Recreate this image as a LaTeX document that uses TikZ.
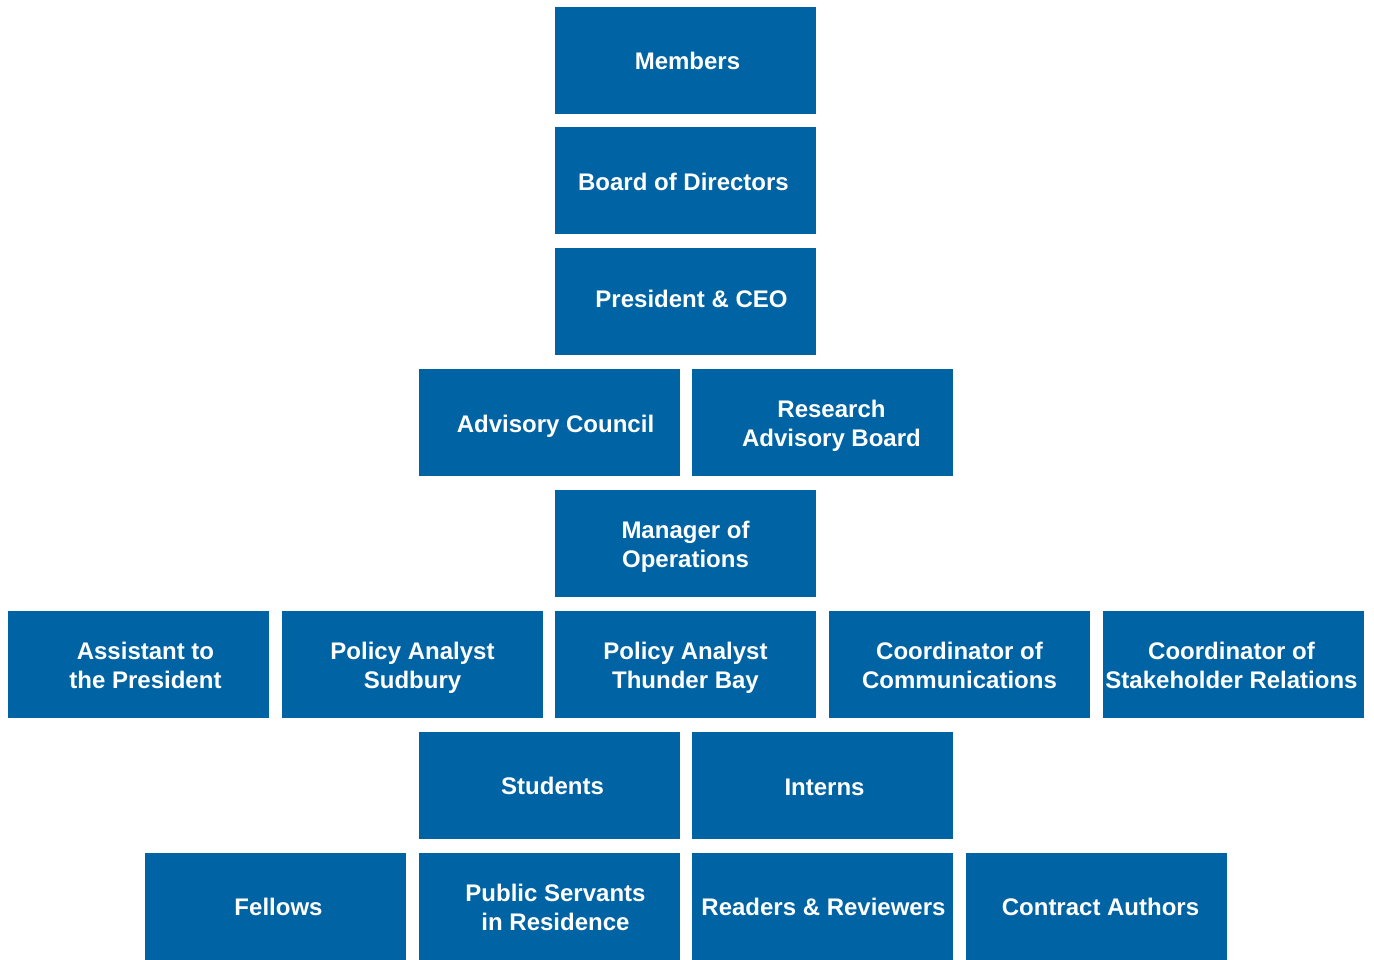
\documentclass[tikz,border=0pt]{standalone}
\usepackage{fontspec}
\setmainfont{Liberation Sans}
\usepackage{tikz}
\usetikzlibrary{positioning}

\definecolor{orgblue}{RGB}{0,99,164}

\begin{document}
\begin{tikzpicture}[line join=bevel,
  orgbox/.style={fill=orgblue,draw=none,inner sep=0pt,
    minimum width=130.5bp,minimum height=53.5bp},
  orgtext/.style={text=white,inner sep=0pt,align=center,
    font=\fontsize{12bp}{14.5bp}\selectfont\bfseries},
  ]
\useasboundingbox (0bp,0bp) rectangle (687bp,480bp);
%%
\node (node_members) at (342.75bp,449.75bp) [orgbox,label={[orgtext,xshift=1bp]center:Members}] {};
  \node (node_board) at (342.75bp,389.75bp) [orgbox,label={[orgtext,xshift=-1bp,yshift=-0.5bp]center:Board of Directors}] {};
  \node (node_president) at (342.75bp,329.25bp) [orgbox,label={[orgtext,xshift=3bp,yshift=1.5bp]center:President \& CEO}] {};
%
\node (node_advisory) at (274.75bp,268.75bp) [orgbox,label={[orgtext,xshift=3bp,yshift=-2bp]center:Advisory Council}] {};
  \node (node_research) at (411.25bp,268.75bp) [orgbox,label={[orgtext,xshift=4.5bp,yshift=-1.5bp]center:Research\\Advisory Board}] {};
  \node (node_manager) at (342.75bp,208.25bp) [orgbox,label={[orgtext,yshift=-1.5bp]center:Manager of\\Operations}] {};
%
\node (node_assistant) at (69.25bp,147.75bp) [orgbox,label={[orgtext,xshift=3.5bp,yshift=-0.5bp]center:Assistant to\\the President}] {};
  \node (node_sudbury) at (206.25bp,147.75bp) [orgbox,label={[orgtext,yshift=-1.5bp]center:Policy Analyst\\Sudbury}] {};
  \node (node_thunderbay) at (342.75bp,147.75bp) [orgbox,label={[orgtext,yshift=-1.5bp]center:Policy Analyst\\Thunder Bay}] {};
  \node (node_comms) at (479.75bp,147.75bp) [orgbox,label={[orgtext,yshift=-0.5bp]center:Coordinator of\\Communications}] {};
  \node (node_stakeholder) at (616.75bp,147.75bp) [orgbox,label={[orgtext,xshift=-1bp,yshift=-0.5bp]center:Coordinator of\\Stakeholder Relations}] {};
%
\node (node_students) at (274.75bp,87.25bp) [orgbox,label={[orgtext,xshift=1.5bp]center:Students}] {};
  \node (node_interns) at (411.25bp,87.25bp) [orgbox,label={[orgtext,xshift=1bp,yshift=-1bp]center:Interns}] {};
%
\node (node_fellows) at (137.75bp,26.75bp) [orgbox,label={[orgtext,xshift=1.5bp]center:Fellows}] {};
  \node (node_servants) at (274.75bp,26.75bp) [orgbox,label={[orgtext,xshift=3bp,yshift=-0.5bp]center:Public Servants\\in Residence}] {};
  \node (node_readers) at (411.25bp,26.75bp) [orgbox,label={[orgtext,xshift=0.5bp]center:Readers \& Reviewers}] {};
  \node (node_authors) at (548.25bp,26.75bp) [orgbox,label={[orgtext,xshift=2bp]center:Contract Authors}] {};
%
\end{tikzpicture}
\end{document}
